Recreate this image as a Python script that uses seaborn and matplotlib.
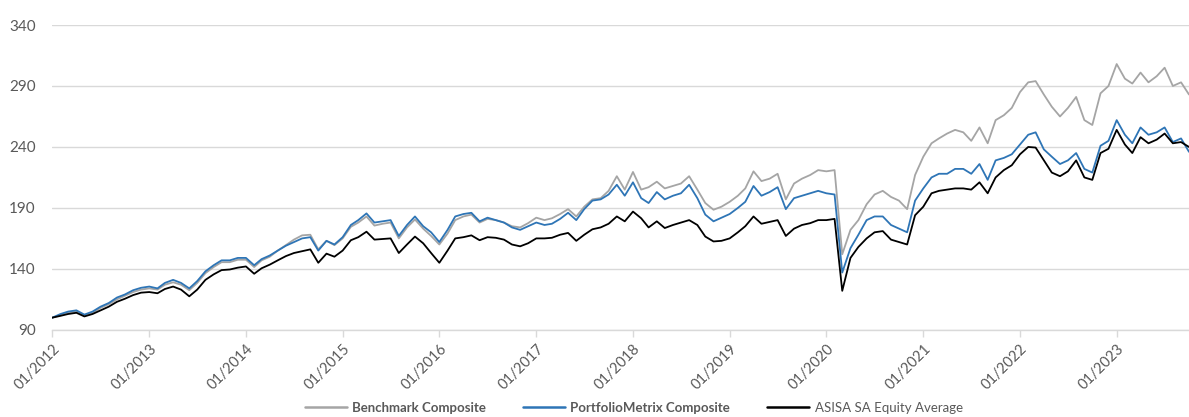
import pandas as pd
import matplotlib.pyplot as plt
import matplotlib.dates as mdates
import seaborn as sns

# --- monthly index values (start of month) ---
benchmark = [
    100, 102, 104, 105, 101.5, 104, 108, 111, 115, 118, 121, 123,
    124, 123, 127, 129, 127, 122.5, 128.5, 136.5, 141.5, 145.5, 145.5, 147.5,
    147.5, 141.5, 147, 150, 155, 159.5, 164, 167.5, 168, 156, 163, 159.5,
    165, 174.5, 178, 183, 175.5, 177, 178, 165, 174, 180.5, 173, 167,
    160, 169, 180, 183, 184.5, 178, 181, 180, 178, 175, 174, 177.5,
    182, 180, 181.5, 185, 189, 183, 191, 197, 198, 204, 216, 205,
    219.5, 205, 207, 211.5, 206, 208, 210, 216, 205, 194, 188.5, 191,
    195, 200, 206, 220, 212, 214, 218, 197, 210, 214, 217, 221,
    220, 221, 152, 172, 180, 193, 201, 204, 199, 196, 189, 217,
    232, 243, 247, 251, 254, 252, 245, 256, 243, 262, 266, 272,
    285, 293, 294, 283, 273, 265, 272, 281, 262, 258, 284, 290,
    308, 296, 292, 301, 293, 298, 305, 290, 293, 283,
]
portfoliometrix = [
    100, 103, 105, 106, 102.5, 105, 109, 112, 116.5, 119, 122.5, 124.5,
    125.5, 124, 128.5, 131, 128.5, 124, 130, 138, 143, 147, 147, 149,
    149, 143, 148, 151, 155, 159, 162, 165, 166, 155, 163, 160,
    166, 176, 180, 185.5, 178, 179, 180, 167, 176, 183, 175, 170,
    162, 172, 183, 185, 186, 179, 182, 180, 178, 174, 172, 175,
    178, 176, 177, 181, 186, 180, 189, 196, 197, 201, 209, 200,
    211, 198, 194, 203, 197, 200, 202, 209, 198, 184.5, 179, 182,
    185, 190, 195, 208, 200, 203, 207, 189, 198, 200, 202, 204,
    202, 201, 137, 157, 168, 180, 183, 183, 176, 173, 170, 196,
    206, 215, 218, 218, 222, 222, 218, 226, 213, 229, 231, 234,
    242, 250, 252, 238, 232, 226, 229, 235, 222, 219, 241, 245,
    262, 250, 243, 256, 250, 252, 256, 244, 247, 236,
]
asisa = [
    100, 101.5, 103, 104, 101, 103, 106, 109, 113, 115.5, 118.5, 120.5,
    121, 120, 123.5, 125.5, 123, 117.5, 123, 131, 135.5, 139, 139.5, 141,
    142, 136, 140.5, 143.5, 147, 150.5, 153, 154.5, 156, 145, 152.5, 150,
    155, 163.5, 166, 170.5, 164, 164.5, 165, 153, 160, 166.5, 161, 153,
    145, 155, 165, 166, 167.5, 163.5, 166, 165.5, 164, 160, 158.5, 161,
    165, 165, 165.5, 168, 169.5, 163, 168, 172.5, 174, 177, 183, 179,
    187, 181.5, 174, 179, 173.5, 176, 178, 180, 176, 166.5, 162.5, 163,
    165, 170, 175, 183, 177, 178.5, 180, 167, 173, 176, 177.5, 180,
    180, 181, 122, 149, 158, 165, 170, 171, 164, 162, 160, 184,
    191, 202, 204, 205, 206, 206, 205, 211, 202, 215, 221, 225,
    234, 240, 239.5, 229, 219, 216, 220, 229, 215, 213, 235, 238.5,
    254, 242, 235, 248, 243, 246, 251, 243, 244, 240,
]
series_names = ["Benchmark Composite", "PortfolioMetrix Composite", "ASISA SA Equity Average"]
dates = pd.date_range("2012-01-01", periods=len(benchmark), freq="MS")

df = pd.DataFrame({"date": dates,
                   series_names[0]: benchmark,
                   series_names[1]: portfoliometrix,
                   series_names[2]: asisa})
long_df = df.melt(id_vars="date", var_name="series", value_name="value")

# --- style ---
sns.set_theme(style="white")
plt.rcParams["font.family"] = ["Lato", "DejaVu Sans"]
text_col = "#595959"
grid_col = "#d9d9d9"

fig = plt.figure(figsize=(11.89, 4.17), dpi=100)
ax = fig.add_axes([0.044, 0.209, 0.956, 0.731])

palette = {series_names[0]: "#a5a5a5", series_names[1]: "#2e75b6", series_names[2]: "#000000"}
sns.lineplot(data=long_df, x="date", y="value", hue="series", hue_order=series_names,
             palette=palette, linewidth=1.3, ax=ax, legend=False)

ax.set_ylim(90, 340)
ax.set_yticks([90, 140, 190, 240, 290, 340])
ax.set_xlim(pd.Timestamp("2012-01-01"), dates[-1])
ax.xaxis.set_major_locator(mdates.YearLocator())
ax.xaxis.set_major_formatter(mdates.DateFormatter("%m/%Y"))
ax.set_xlabel("")
ax.set_ylabel("")

ax.grid(axis="y", color=grid_col, linewidth=1)
ax.set_axisbelow(True)
for side in ["top", "right", "left"]:
    ax.spines[side].set_visible(False)
ax.spines["bottom"].set_color(grid_col)
ax.spines["bottom"].set_linewidth(1)

ax.tick_params(axis="y", length=0, pad=12, labelsize=11, labelcolor=text_col)
ax.tick_params(axis="x", length=5, width=1, color=grid_col, direction="out",
               labelsize=10.5, labelcolor=text_col, bottom=True)
for lbl in ax.get_xticklabels():
    lbl.set_rotation(45)
    lbl.set_ha("right")
    lbl.set_rotation_mode("anchor")

# --- legend ---
handles = [plt.Line2D([], [], color=palette[n], linewidth=1.8) for n in series_names]
leg = fig.legend(handles, series_names, loc="center", bbox_to_anchor=(0.533, 0.022),
                 ncol=3, frameon=False, fontsize=9.5, handlelength=3.2,
                 columnspacing=2.8, handletextpad=0.4)
for i, t in enumerate(leg.get_texts()):
    t.set_color(text_col)
    if i < 2:
        t.set_fontweight("bold")

fig.savefig("out.png", dpi=100)
